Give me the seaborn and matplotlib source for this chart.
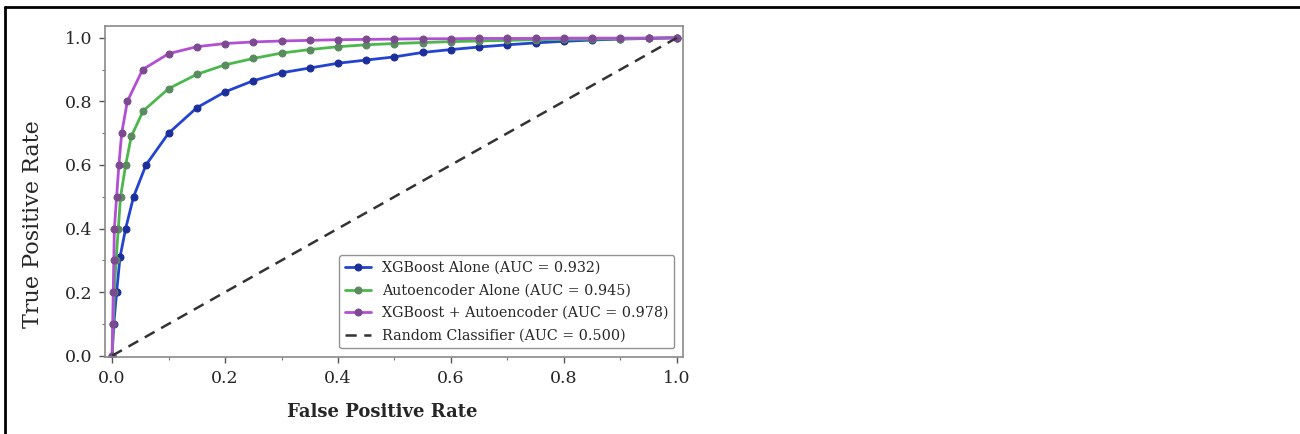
import numpy as np
import pandas as pd
import matplotlib
matplotlib.use("Agg")
import matplotlib.pyplot as plt
import seaborn as sns
from matplotlib.ticker import AutoMinorLocator
from matplotlib.lines import Line2D

#%% data

fpr_xgb = [0, 0.003, 0.008, 0.014, 0.024, 0.038, 0.06, 0.10, 0.15, 0.20, 0.25, 0.30, 0.35,
           0.40, 0.45, 0.50, 0.55, 0.60, 0.65, 0.70, 0.75, 0.80, 0.85, 0.90, 0.95, 1.0]
tpr_xgb = [0, 0.10, 0.20, 0.31, 0.40, 0.50, 0.60, 0.70, 0.78, 0.83, 0.865, 0.89, 0.905,
           0.92, 0.93, 0.94, 0.954, 0.963, 0.971, 0.978, 0.984, 0.989, 0.993, 0.996, 0.998, 1.0]

fpr_ae = [0, 0.002, 0.004, 0.007, 0.011, 0.015, 0.024, 0.034, 0.055, 0.10, 0.15, 0.20, 0.25,
          0.30, 0.35, 0.40, 0.45, 0.50, 0.55, 0.60, 0.65, 0.70, 0.75, 0.80, 0.85, 0.90, 0.95, 1.0]
tpr_ae = [0, 0.10, 0.20, 0.30, 0.40, 0.50, 0.60, 0.69, 0.77, 0.84, 0.885, 0.915, 0.935,
          0.952, 0.963, 0.972, 0.978, 0.982, 0.985, 0.988, 0.990, 0.992, 0.994, 0.995, 0.996, 0.997, 0.999, 1.0]

fpr_comb = [0, 0.001, 0.002, 0.003, 0.004, 0.008, 0.012, 0.017, 0.027, 0.054, 0.10, 0.15, 0.20,
            0.25, 0.30, 0.35, 0.40, 0.45, 0.50, 0.55, 0.60, 0.65, 0.70, 0.75, 0.80, 0.85, 0.90, 0.95, 1.0]
tpr_comb = [0, 0.10, 0.20, 0.30, 0.40, 0.50, 0.60, 0.70, 0.80, 0.90, 0.95, 0.972, 0.982,
            0.987, 0.990, 0.992, 0.994, 0.995, 0.996, 0.997, 0.997, 0.998, 0.998, 0.998, 0.999, 0.999, 0.999, 0.999, 1.0]

fpr_rand = [0, 1.0]
tpr_rand = [0, 1.0]

labels = ["XGBoost Alone (AUC = 0.932)",
          "Autoencoder Alone (AUC = 0.945)",
          "XGBoost + Autoencoder (AUC = 0.978)",
          "Random Classifier (AUC = 0.500)"]

#%% plot

sns.set_theme(style="ticks")
plt.rcParams['font.family'] = ['DejaVu Serif']

fig = plt.figure(figsize=(13, 4.34), dpi=100)
ax = fig.add_axes([0.0808, 0.1774, 0.4446, 0.7626])

# (x, y, line colour, marker colour)
series = [(fpr_xgb, tpr_xgb, "#2344d2", "#1b2e9a"),
          (fpr_ae, tpr_ae, "#4cb84c", "#5a8a5f"),
          (fpr_comb, tpr_comb, "#b24fd4", "#7c4a90")]

for (x, y, col, mcol), lab in zip(series, labels[:3]):
    df = pd.DataFrame({"fpr": x, "tpr": y})
    sns.lineplot(data=df, x="fpr", y="tpr", ax=ax, color=col, lw=2,
                 marker="o", markersize=5, markerfacecolor=mcol,
                 markeredgecolor=mcol, label=lab, sort=False)

sns.lineplot(x=fpr_rand, y=tpr_rand, ax=ax, color="#333333", lw=1.8,
             linestyle=(0, (4.5, 3)), label=labels[3])

ax.set_xlim(-0.0125, 1.011)
ax.set_ylim(-0.004, 1.037)
ax.set_xticks(np.arange(0, 1.01, 0.2))
ax.set_yticks(np.arange(0, 1.01, 0.2))
ax.xaxis.set_minor_locator(AutoMinorLocator(2))
ax.yaxis.set_minor_locator(AutoMinorLocator(2))
ax.tick_params(which='major', length=4, width=1, color='#555555', labelsize=12.5, pad=5)
ax.tick_params(which='minor', length=2, width=0.8, color='#777777')
for s in ax.spines.values():
    s.set_color('#8a8a8a')
    s.set_linewidth(1.2)

ax.set_xlabel('False Positive Rate', fontsize=13, fontweight='bold')
ax.set_ylabel('True Positive Rate', fontsize=16)
ax.xaxis.set_label_coords(0.48, -0.139)
ax.yaxis.set_label_coords(-0.106, 0.40)

leg = ax.legend(loc='lower right', fontsize=10.3, frameon=True, handlelength=1.8,
                labelspacing=0.6, borderaxespad=0.6, fancybox=True)
leg.get_frame().set_edgecolor('#777777')
leg.get_frame().set_linewidth(1)

# page frame lines (top and left) as in the reference image
fig.add_artist(Line2D([0.0042, 1.0], [0.985, 0.985], transform=fig.transFigure, color='black', lw=2))
fig.add_artist(Line2D([0.0042, 0.0042], [0.0, 0.985], transform=fig.transFigure, color='black', lw=2))

fig.savefig("out.png", dpi=100)
